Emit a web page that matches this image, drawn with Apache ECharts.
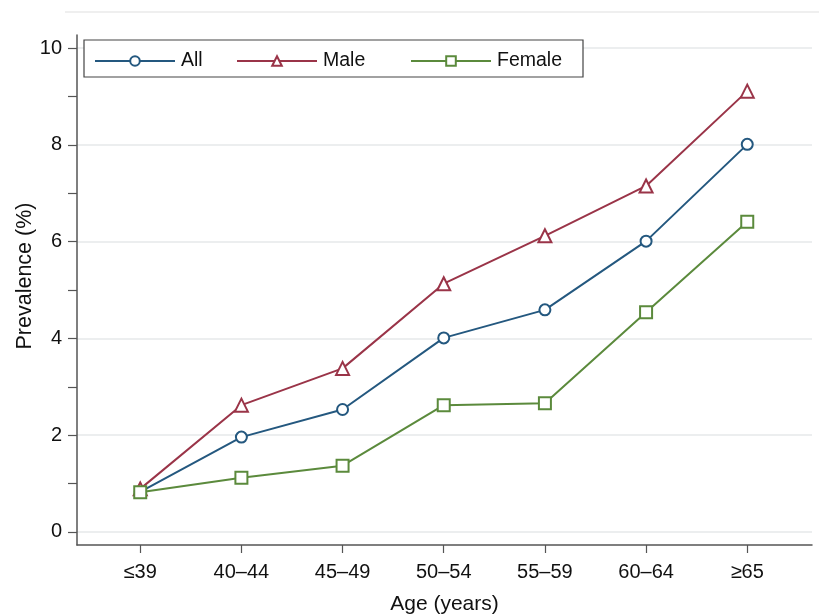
<!DOCTYPE html>
<html>
<head>
<meta charset="utf-8">
<script src="https://cdn.jsdelivr.net/npm/echarts@6/dist/echarts.min.js"></script>
<style>html,body{margin:0;padding:0;background:#fff}#c{width:819px;height:615px}</style>
</head>
<body>
<div id="c"></div>
<script>
var categories = ['\u226439', '40\u201344', '45\u201349', '50\u201354', '55\u201359', '60\u201364', '\u226565'];
var allValues = [0.83, 1.96, 2.53, 4.01, 4.59, 6.01, 8.01];
var maleValues = [0.89, 2.62, 3.38, 5.13, 6.12, 7.15, 9.11];
var femaleValues = [0.82, 1.12, 1.37, 2.62, 2.66, 4.54, 6.41];
var yTickValues = [0, 1, 2, 3, 4, 5, 6, 7, 8, 9, 10];
var yLabelValues = [0, 2, 4, 6, 8, 10];

var FONT = '"Liberation Sans", Arial, sans-serif';
var xPositions = categories.map(function (c, i) { return i + 1; });
function pairs(vals) { return vals.map(function (v, i) { return [i + 1, v]; }); }

var chart = echarts.init(document.getElementById('c'), null, {renderer: 'canvas'});
var axisColor = '#555';
var legendCommon = {
  top: 51, padding: 0, itemWidth: 80, itemHeight: 12, itemGap: 0,
  textStyle: {fontSize: 19.5, fontFamily: FONT, color: '#111', padding: [0, 0, 0, 1]},
  selectedMode: false
};
chart.setOption({
  backgroundColor: '#fff',
  animation: false,
  grid: {left: 77, right: 7, top: 35, bottom: 70, outerBoundsMode: 'none', containLabel: false},
  graphic: [
    {type: 'line', shape: {x1: 65, y1: 12, x2: 819, y2: 12}, style: {stroke: '#efefef', lineWidth: 2}, silent: true},
    {type: 'rect', shape: {x: 84, y: 40, width: 499, height: 37}, style: {fill: '#fff', stroke: '#444', lineWidth: 1.2}, z: 5, silent: true}
  ],
  legend: [
    Object.assign({}, legendCommon, {left: 94, data: ['All'], z: 10}),
    Object.assign({}, legendCommon, {left: 236, data: ['Male'], z: 10}),
    Object.assign({}, legendCommon, {left: 410, data: ['Female'], z: 10})
  ],
  xAxis: {
    type: 'value', min: 0.375, max: 7.64,
    name: 'Age (years)', nameLocation: 'middle', nameGap: 49,
    nameTextStyle: {fontSize: 21, fontFamily: FONT, color: '#111'},
    axisLine: {show: true, onZero: false, lineStyle: {color: axisColor, width: 1.5}},
    axisTick: {show: true, customValues: xPositions, length: 8, lineStyle: {color: axisColor, width: 1.2}},
    axisLabel: {customValues: xPositions, margin: 17, fontSize: 20, fontFamily: FONT, color: '#111',
      formatter: function (v) { return categories[Math.round(v) - 1] || ''; }},
    splitLine: {show: false}
  },
  yAxis: [{
    type: 'value', min: -0.27, max: 10.27,
    name: 'Prevalence (%)', nameLocation: 'middle', nameGap: 41, nameMoveOverlap: false,
    nameTextStyle: {fontSize: 21.5, fontFamily: FONT, color: '#111', padding: [0, 0, 0, 28]},
    axisLine: {show: true, onZero: false, lineStyle: {color: axisColor, width: 1.5}},
    axisTick: {show: true, customValues: yTickValues, length: 9, lineStyle: {color: axisColor, width: 1.2}},
    axisLabel: {customValues: yLabelValues, margin: 15, fontSize: 20, fontFamily: FONT, color: '#111'},
    splitLine: {show: false}
  }, {
    type: 'value', min: -0.27, max: 10.27, position: 'left',
    axisLine: {show: false}, axisLabel: {show: false},
    axisTick: {show: false, customValues: yLabelValues},
    splitLine: {show: true, lineStyle: {color: '#e6e9ea', width: 1.5}}
  }],
  series: [
    {name: 'All', type: 'line', data: pairs(allValues), symbol: 'emptyCircle', symbolSize: 11,
      itemStyle: {color: '#24587f', borderWidth: 1.6}, lineStyle: {color: '#24587f', width: 2}, z: 3},
    {name: 'Male', type: 'line', data: pairs(maleValues), symbol: 'emptyTriangle', symbolSize: 13,
      itemStyle: {color: '#9a3448', borderWidth: 1.6}, lineStyle: {color: '#9a3448', width: 2}, z: 3},
    {name: 'Female', type: 'line', data: pairs(femaleValues), symbol: 'emptyRect', symbolSize: 12,
      itemStyle: {color: '#5b8a3c', borderWidth: 1.6}, lineStyle: {color: '#5b8a3c', width: 2}, z: 3}
  ]
});
</script>
</body>
</html>
